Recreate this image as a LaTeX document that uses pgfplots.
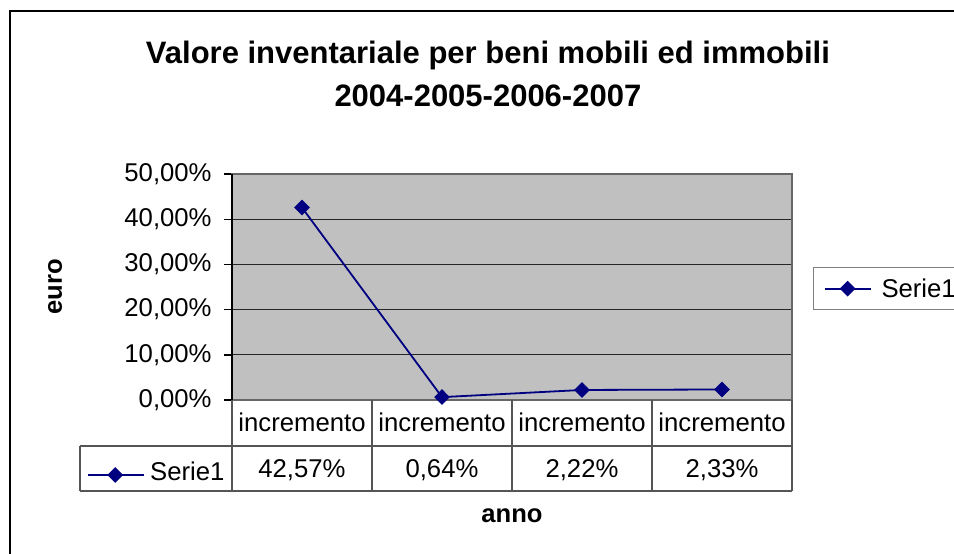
\documentclass[border=0pt]{standalone}
\usepackage{fontspec}
\setmainfont{Liberation Sans}
\usepackage{pgfplots}
\pgfplotsset{compat=1.18}
\definecolor{navyline}{RGB}{0,0,128}
\definecolor{plotgray}{RGB}{192,192,192}
\definecolor{tablegray}{RGB}{85,85,85}
\newcommand{\regfont}{\fontsize{12.85}{15}\selectfont}
\pgfplotsset{
  serie/.style={color=navyline, line width=0.9pt, mark=diamond*, mark size=3.3pt,
    mark options={xscale=1.33, fill=navyline, draw=navyline, solid}},
}
\begin{document}
\begin{tikzpicture}
\path[use as bounding box] (0,0) rectangle (477pt,-276.5pt);
\clip (0,0) rectangle (477pt,-276.5pt);
\begin{scope}[x=0.5pt,y=-0.5pt]
  \fill[white] (0,0) rectangle (954,553);
  \draw[black, line width=0.7pt] (10,11) rectangle (1000,600);
\end{scope}
\begin{axis}[
  at={(116pt,-200pt)}, anchor=south west,
  scale only axis, width=280pt, height=113pt,
  xmin=-0.5, xmax=3.5, ymin=0, ymax=50,
  axis background/.style={fill=plotgray},
  axis line style={draw=black!60, line width=0.7pt},
  clip=false,
  xtick={0,1,2,3},
  xticklabels={incremento,incremento,incremento,incremento},
  x tick style={draw=none},
  xticklabel style={anchor=center, yshift=-7.4pt, inner sep=0pt, font=\regfont},
  ytick={0,10,20,30,40,50},
  ytick pos=left,
  tick align=outside,
  major tick length=4pt,
  y tick style={black, line width=0.7pt},
  yticklabel={\pgfmathprintnumber[fixed,fixed zerofill,precision=2,use comma]{\tick}\%},
  /pgf/number format/assume math mode=true,
  yticklabel style={anchor=east, inner sep=0pt, xshift=-6pt, font=\regfont},
  ymajorgrids, grid style={black!85, line width=0.55pt},
  ylabel={euro},
  ylabel style={at={(axis description cs:-0.316,0.5)}, anchor=center, font=\bfseries\fontsize{12.8}{15}\selectfont},
  xlabel={anno},
  xlabel style={at={(axis description cs:0.5,-0.511)}, anchor=center, inner sep=0pt, font=\bfseries\fontsize{12.8}{15}\selectfont},
  title={Valore inventariale per beni mobili ed immobili\\2004-2005-2006-2007},
  title style={at={(axis description cs:0.457,1.535)}, anchor=north, inner sep=0pt, align=center, font=\bfseries\fontsize{15.5}{21.5}\selectfont},
  legend style={at={(rel axis cs:1.0375,0.5885)}, anchor=north west, draw=gray, fill=white,
    line width=0.7pt, font=\regfont, inner xsep=5pt, inner ysep=5.9pt,
    nodes={inner sep=0pt, text height=9.2pt, text depth=0pt}, column sep=5pt},
  legend cell align=left,
  legend image code/.code={\draw[mark repeat=2,mark phase=2,#1] plot coordinates {(0pt,0pt) (11.5pt,0pt) (23pt,0pt)};},
]
\addplot[serie] coordinates {(0,42.57) (1,0.64) (2,2.22) (3,2.33)};
\addlegendentry{Serie1}
\draw[black, line width=0.8pt] (rel axis cs:0,0) -- (rel axis cs:0,1);
\node[font=\regfont] at (axis cs:0,0) [yshift=-35.3pt] {42,57\%};
\node[font=\regfont] at (axis cs:1,0) [yshift=-35.3pt] {0,64\%};
\node[font=\regfont] at (axis cs:2,0) [yshift=-35.3pt] {2,22\%};
\node[font=\regfont] at (axis cs:3,0) [yshift=-35.3pt] {2,33\%};
\end{axis}
\begin{axis}[
  at={(116pt,-200pt)}, anchor=south west,
  scale only axis, width=280pt, height=113pt,
  xmin=-0.5, xmax=3.5, ymin=0, ymax=50,
  hide axis,
  legend style={at={(rel axis cs:-0.259,-0.317)}, anchor=west, draw=none, fill=none,
    font=\regfont, inner xsep=0pt, inner ysep=0pt,
    nodes={inner sep=0pt, text height=9.2pt, text depth=0pt}, column sep=2.5pt},
  legend image code/.code={\draw[mark repeat=2,mark phase=2,#1] plot coordinates {(0pt,-2pt) (13.5pt,-2pt) (28pt,-2pt)};},
]
\addlegendimage{serie}
\addlegendentry{Serie1}
\end{axis}
\begin{scope}[x=0.5pt,y=-0.5pt, tablegray, line width=0.75pt]
  \draw (80,446) -- (792,446);
  \draw (80,491) -- (792,491);
  \draw (80,446) -- (80,491);
  \foreach \xx in {232,372,512,652,792} {\draw (\xx,400) -- (\xx,491);}
\end{scope}
\end{tikzpicture}
\end{document}
